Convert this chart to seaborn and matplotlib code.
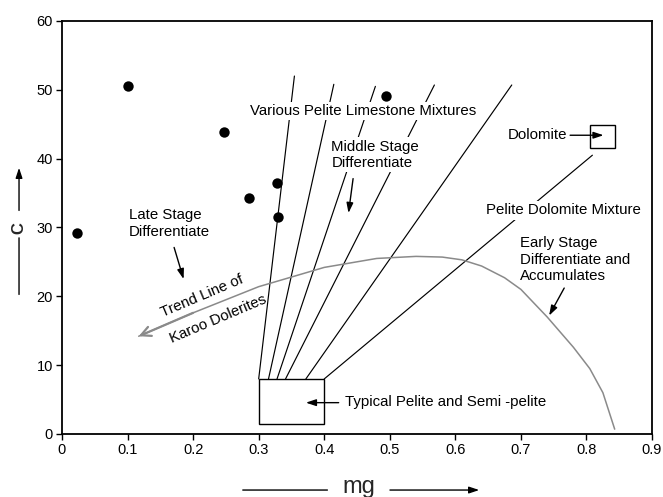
import matplotlib
matplotlib.use("Agg")
import matplotlib.pyplot as plt
import seaborn as sns
import pandas as pd
from matplotlib.patches import Rectangle, FancyArrowPatch

# Sample compositions (mg, C)
sample_mg = [0.0225, 0.100, 0.247, 0.285, 0.3285, 0.329, 0.494]
sample_c = [29.2, 50.5, 43.9, 34.3, 36.4, 31.5, 49.1]

# Trend line of the Karoo dolerites (left end carries the arrowhead)
trend_mg = [0.117, 0.200, 0.300, 0.400, 0.480, 0.540, 0.580, 0.610, 0.640, 0.675, 0.700,
            0.740, 0.780, 0.805, 0.825, 0.843]
trend_c = [14.2, 17.6, 21.4, 24.2, 25.5, 25.8, 25.7, 25.3, 24.4, 22.7, 21.0,
           17.0, 12.6, 9.5, 6.0, 0.7]

# Mixing lines from the pelite field
mix_mg_start = [0.300, 0.315, 0.328, 0.341, 0.372, 0.400]
mix_c_start = [8.0, 8.0, 8.0, 8.0, 8.0, 8.0]
mix_mg_end = [0.3545, 0.4146, 0.478, 0.568, 0.686, 0.809]
mix_c_end = [52.0, 50.8, 50.5, 50.7, 50.7, 40.5]

# Composition fields: (mg_min, mg_max, c_min, c_max)
pelite_field = (0.300, 0.400, 1.5, 8.0)
dolomite_field = (0.805, 0.843, 41.6, 44.9)

x_ticks = [0, 0.1, 0.2, 0.3, 0.4, 0.5, 0.6, 0.7, 0.8, 0.9]
x_tick_labels = ["0", "0.1", "0.2", "0.3", "0.4", "0.5", "0.6", "0.7", "0.8", "0.9"]
y_ticks = [0, 10, 20, 30, 40, 50, 60]

sns.set_theme(style="white")
plt.rcParams["font.family"] = ["Liberation Sans", "DejaVu Sans"]

fig = plt.figure(figsize=(6.63, 4.97), dpi=100)
ax = fig.add_axes([0.0935, 0.1268, 0.890, 0.831])

# mixing lines
for x0, y0, x1, y1 in zip(mix_mg_start, mix_c_start, mix_mg_end, mix_c_end):
    ax.plot([x0, x1], [y0, y1], color="black", lw=0.85, zorder=2)

# trend curve
trend_df = pd.DataFrame({"mg": trend_mg, "C": trend_c})
sns.lineplot(data=trend_df, x="mg", y="C", sort=False, color="#8a8a8a", lw=1.1, ax=ax, zorder=3)
ax.annotate("", xy=(trend_mg[0], trend_c[0]), xytext=(trend_mg[1], trend_c[1]),
            arrowprops=dict(arrowstyle="->,head_length=0.7,head_width=0.35", color="#8a8a8a",
                            lw=1.6, shrinkA=0, shrinkB=0, mutation_scale=10), zorder=3)

# samples
samples_df = pd.DataFrame({"mg": sample_mg, "C": sample_c})
sns.scatterplot(data=samples_df, x="mg", y="C", color="black", s=56, edgecolor="black",
                linewidth=0, ax=ax, zorder=5)

# composition fields
for (x0, x1, y0, y1) in (pelite_field, dolomite_field):
    ax.add_patch(Rectangle((x0, y0), x1 - x0, y1 - y0, fill=False, edgecolor="black",
                           lw=1.0, zorder=4))

txt = dict(fontsize=10.8, color="black", zorder=6)
white = dict(boxstyle="square,pad=0.15", facecolor="white", edgecolor="none")

ax.text(0.286, 46.9, "Various Pelite Limestone Mixtures", ha="left", va="center", bbox=white, **txt)
ax.text(0.411, 40.55, "Middle Stage\nDifferentiate", ha="left", va="center", linespacing=1.22,
        bbox=white, **txt)
ax.text(0.102, 30.6, "Late Stage\nDifferentiate", ha="left", va="center", linespacing=1.22, **txt)
ax.text(0.771, 43.4, "Dolomite", ha="right", va="center", **txt)
ax.text(0.646, 32.5, "Pelite Dolomite Mixture", ha="left", va="center", bbox=white, **txt)
ax.text(0.699, 25.3, "Early Stage\nDifferentiate and\nAccumulates", ha="left", va="center",
        linespacing=1.22, **txt)
ax.text(0.432, 4.6, "Typical Pelite and Semi -pelite", ha="left", va="center", **txt)
ax.text(0.213, 20.0, "Trend Line of", ha="center", va="center", rotation=23,
        rotation_mode="anchor", **txt)
ax.text(0.238, 16.7, "Karoo Dolerites", ha="center", va="center", rotation=23,
        rotation_mode="anchor", **txt)

arrow_props = dict(arrowstyle="-|>,head_length=0.6,head_width=0.2", color="black", lw=1.0,
                   shrinkA=0, shrinkB=0, mutation_scale=10)
for start, end in [((0.444, 37.1), (0.437, 32.1)),
                   ((0.171, 27.1), (0.1855, 22.5)),
                   ((0.775, 43.4), (0.826, 43.4)),
                   ((0.766, 21.2), (0.743, 17.2)),
                   ((0.422, 4.55), (0.372, 4.55))]:
    ax.annotate("", xy=end, xytext=start, arrowprops=arrow_props, zorder=6)

ax.set_xlim(0, 0.9)
ax.set_ylim(0, 60)
ax.set_xticks(x_ticks)
ax.set_xticklabels(x_tick_labels)
ax.set_yticks(y_ticks)
ax.set_xlabel("")
ax.set_ylabel("")
ax.tick_params(axis="both", direction="out", length=4, width=1.0, color="black",
               labelsize=10.5, labelcolor="black", pad=2.5, bottom=True, left=True)
for side in ["left", "bottom", "top", "right"]:
    ax.spines[side].set_visible(True)
    ax.spines[side].set_color("black")
    ax.spines[side].set_linewidth(1.3)

# axis captions with direction arrows
fig.text(0.0287, 0.541, "C", rotation=90, ha="center", va="center", fontsize=12, fontweight="bold")
fig.add_artist(FancyArrowPatch((0.0287, 0.571), (0.0287, 0.668), transform=fig.transFigure,
                               arrowstyle="-|>,head_length=0.6,head_width=0.2", mutation_scale=10,
                               color="black", lw=1.0))
fig.add_artist(FancyArrowPatch((0.0287, 0.527), (0.0287, 0.402), transform=fig.transFigure,
                               arrowstyle="-", color="black", lw=1.0))

fig.text(0.541, 0.008, "mg", ha="center", va="baseline", fontsize=17)
fig.add_artist(FancyArrowPatch((0.362, 0.014), (0.498, 0.014), transform=fig.transFigure,
                               arrowstyle="-", color="black", lw=1.0))
fig.add_artist(FancyArrowPatch((0.584, 0.014), (0.727, 0.014), transform=fig.transFigure,
                               arrowstyle="-|>,head_length=0.6,head_width=0.2", mutation_scale=10,
                               color="black", lw=1.0))

fig.savefig("out.png", dpi=100)
